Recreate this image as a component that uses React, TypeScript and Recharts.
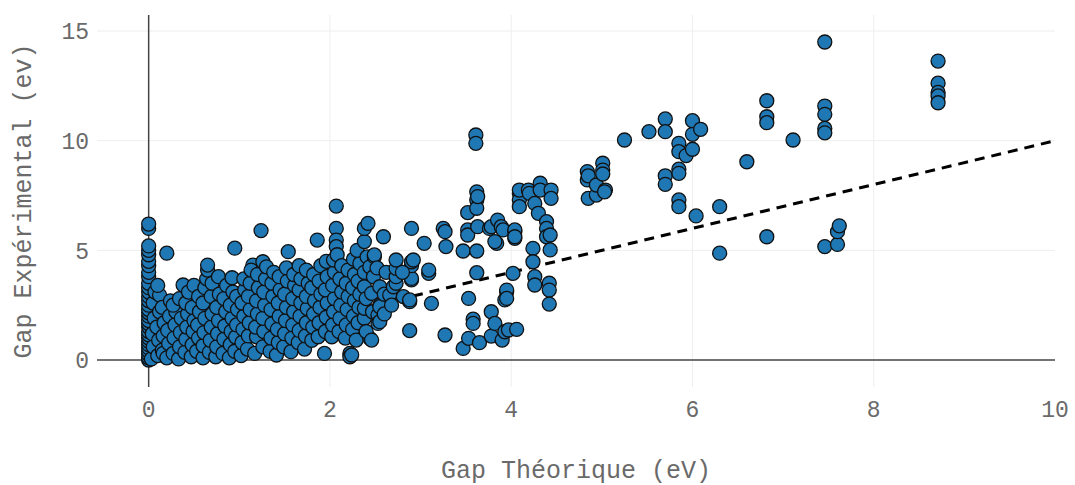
import React from 'react';
import {
  ScatterChart,
  Scatter,
  XAxis,
  YAxis,
  CartesianGrid,
  ReferenceLine,
} from 'recharts';

// ---- Data (Gap Théorique, Gap Expérimental) in eV ----
const zeroGapExperimental: number[] = [
  0, 0.1, 0.25, 0.4, 0.55, 0.7, 0.85, 1.0, 1.15, 1.3, 1.5, 1.65, 1.8, 2.0, 2.15,
  2.3, 2.5, 2.7, 2.9, 3.1, 3.3, 3.5, 3.8, 4.0, 4.3, 4.5, 4.8, 5.0, 5.2, 6.0, 6.2,
];

const lowGapPoints: [number, number][] = [
  [0.03, 0.05], [0.05, 0.6], [0.04, 1.2], [0.06, 1.9], [0.05, 2.6], [0.07, 3.1],
  [0.1, 0.2], [0.11, 0.9], [0.09, 1.5], [0.12, 2.2], [0.12, 2.96], [0.1, 3.4],
  [0.15, 0.45], [0.16, 1.1], [0.17, 1.7], [0.15, 2.4], [0.2, 4.87], [0.16, 0.3],
  [0.2, 0.1], [0.22, 0.75], [0.21, 1.35], [0.23, 2.0], [0.24, 2.7],
  [0.27, 0.3], [0.28, 1.0], [0.29, 1.6], [0.3, 2.2], [0.27, 2.5],
  [0.33, 0.05], [0.34, 0.6], [0.35, 1.25], [0.36, 1.9], [0.34, 2.8], [0.38, 3.42],
  [0.4, 0.35], [0.41, 0.95], [0.42, 1.5], [0.43, 2.1], [0.41, 2.6], [0.44, 3.1],
  [0.47, 0.15], [0.48, 0.7], [0.49, 1.3], [0.5, 1.8], [0.48, 2.4], [0.5, 3.4],
  [0.53, 0.4], [0.55, 1.0], [0.54, 1.6], [0.56, 2.2], [0.55, 2.9],
  [0.6, 0.1], [0.6, 0.65], [0.61, 1.25], [0.62, 1.9], [0.6, 2.6], [0.62, 3.3],
  [0.64, 3.7], [0.65, 4.1], [0.65, 4.33],
  [0.67, 0.35], [0.68, 0.9], [0.69, 1.5], [0.7, 2.1], [0.69, 2.9], [0.7, 3.5],
  [0.74, 0.15], [0.75, 0.6], [0.76, 1.2], [0.77, 1.8], [0.75, 2.4], [0.78, 3.0], [0.77, 3.8],
  [0.82, 0.3], [0.83, 0.95], [0.84, 1.55], [0.85, 2.2], [0.83, 2.8], [0.86, 3.4],
  [0.89, 0.1], [0.9, 0.7], [0.91, 1.3], [0.92, 1.9], [0.9, 2.5], [0.93, 3.1], [0.92, 3.75],
  [0.95, 0.4], [0.96, 1.05], [0.97, 1.6], [0.98, 2.3], [0.97, 2.9], [0.95, 5.1],
];

const midGapPoints: [number, number][] = [
  [1.02, 0.2], [1.03, 0.8], [1.04, 1.4], [1.05, 2.0], [1.03, 2.6], [1.06, 3.2], [1.05, 3.7],
  [1.09, 0.5], [1.1, 1.1], [1.11, 1.7], [1.12, 2.3], [1.1, 2.9], [1.12, 3.5], [1.15, 4.33], [1.13, 4.1],
  [1.17, 0.3], [1.19, 1.06], [1.18, 1.5], [1.2, 2.1], [1.19, 2.7], [1.21, 3.3], [1.2, 3.9], [1.24, 5.9],
  [1.26, 0.6], [1.27, 1.3], [1.26, 1.9], [1.28, 2.5], [1.27, 3.1], [1.29, 3.7], [1.26, 4.48], [1.3, 4.25],
  [1.34, 0.4], [1.35, 1.0], [1.36, 1.65], [1.35, 2.3], [1.37, 2.9], [1.36, 3.5], [1.38, 4.0],
  [1.41, 0.23], [1.43, 0.8], [1.42, 1.4], [1.44, 2.0], [1.43, 2.6], [1.45, 3.2], [1.44, 3.8],
  [1.49, 0.6], [1.5, 1.2], [1.51, 1.8], [1.52, 2.4], [1.5, 3.0], [1.53, 3.6], [1.54, 4.94], [1.52, 4.2],
  [1.57, 0.38], [1.58, 1.0], [1.59, 1.6], [1.6, 2.2], [1.59, 2.8], [1.61, 3.4], [1.6, 3.9],
  [1.65, 0.8], [1.66, 1.35], [1.67, 2.0], [1.68, 2.6], [1.66, 3.2], [1.68, 3.7], [1.66, 4.3],
  [1.72, 0.5], [1.73, 1.1], [1.74, 1.7], [1.75, 2.35], [1.74, 2.9], [1.76, 3.5], [1.74, 4.1],
  [1.8, 0.9], [1.81, 1.5], [1.82, 2.1], [1.83, 2.7], [1.8, 3.3], [1.82, 3.9], [1.86, 5.47],
  [1.87, 1.06], [1.88, 1.7], [1.89, 2.4], [1.9, 3.0], [1.88, 3.6], [1.9, 4.3],
  [1.94, 0.3], [1.95, 1.3], [1.96, 1.95], [1.97, 2.6], [1.95, 3.2], [1.97, 3.8], [1.96, 4.5],
];

const upperGapPoints: [number, number][] = [
  [2.02, 1.06], [2.03, 1.6], [2.04, 2.2], [2.05, 2.8], [2.03, 3.4], [2.05, 4.0], [2.04, 4.56],
  [2.07, 7.02], [2.07, 6.0], [2.07, 5.47], [2.07, 5.17], [2.08, 4.8],
  [2.1, 1.3], [2.11, 1.9], [2.12, 2.5], [2.13, 3.1], [2.11, 3.7], [2.13, 4.3],
  [2.17, 1.0], [2.18, 1.6], [2.19, 2.3], [2.2, 2.9], [2.18, 3.5], [2.2, 4.1], [2.22, 0.3], [2.22, 0.15],
  [2.24, 0.23], [2.25, 1.4], [2.26, 2.0], [2.27, 2.7], [2.25, 3.3], [2.27, 3.9], [2.26, 4.6],
  [2.29, 0.91], [2.31, 1.7], [2.32, 2.4], [2.33, 3.0], [2.31, 3.6], [2.33, 4.4], [2.3, 5.0],
  [2.38, 1.9], [2.38, 2.36], [2.38, 3.34], [2.38, 4.0], [2.38, 5.4], [2.38, 6.0], [2.42, 6.23],
  [2.44, 0.99], [2.4, 1.3], [2.4, 2.8], [2.41, 4.7],
  [2.44, 4.25], [2.46, 3.04], [2.48, 3.8], [2.49, 4.71], [2.49, 4.79], [2.46, 0.91], [2.47, 2.2],
  [2.53, 2.05], [2.53, 1.67], [2.55, 2.5], [2.55, 3.34], [2.55, 2.43], [2.55, 1.75], [2.52, 4.2],
  [2.59, 5.62], [2.6, 3.0], [2.62, 4.0], [2.6, 2.1],
  [2.66, 2.96], [2.7, 3.34], [2.73, 3.5], [2.73, 3.8], [2.73, 4.18], [2.73, 4.56], [2.68, 2.5],
  [2.81, 2.89], [2.88, 2.66], [2.88, 2.74], [2.88, 1.34], [2.9, 3.65], [2.9, 3.72], [2.9, 4.3],
  [2.9, 4.48], [2.9, 6.0], [2.8, 4.0], [2.92, 4.56],
];

const highGapPoints: [number, number][] = [
  [3.04, 5.32], [3.09, 3.95], [3.09, 4.1], [3.12, 2.58], [3.25, 6.0], [3.27, 5.85],
  [3.28, 5.17], [3.27, 1.14],
  [3.47, 4.97], [3.47, 0.53], [3.52, 6.72], [3.52, 5.93], [3.52, 5.7], [3.53, 2.81], [3.53, 0.99],
  [3.58, 1.86], [3.58, 1.67], [3.61, 10.26], [3.61, 9.88], [3.62, 7.67], [3.62, 7.3], [3.62, 6.92],
  [3.62, 4.97], [3.62, 3.98], [3.63, 6.08], [3.65, 0.79], [3.63, 7.45],
  [3.76, 6.0], [3.78, 6.08], [3.78, 1.09], [3.78, 2.2], [3.82, 1.67], [3.84, 5.32], [3.85, 6.38],
  [3.89, 6.08], [3.9, 0.91], [3.91, 5.93], [3.93, 1.29], [3.93, 2.74], [3.95, 3.11], [3.95, 3.19],
  [3.95, 2.81], [3.97, 1.37], [3.82, 5.4],
  [4.02, 3.95], [4.04, 5.85], [4.04, 5.55], [4.04, 5.93], [4.04, 5.62], [4.06, 1.4],
  [4.09, 7.6], [4.09, 7.3], [4.09, 6.99], [4.09, 7.75], [4.19, 7.75], [4.2, 7.6], [4.24, 5.09],
  [4.24, 4.48], [4.26, 7.14], [4.26, 3.8], [4.26, 3.42], [4.3, 6.69], [4.32, 8.06], [4.32, 7.75],
  [4.39, 6.31], [4.39, 6.0], [4.39, 5.62], [4.42, 3.5], [4.42, 3.19], [4.42, 2.55], [4.43, 5.7],
  [4.43, 5.02], [4.44, 7.75], [4.44, 7.37],
];

const largeGapPoints: [number, number][] = [
  [4.84, 8.59], [4.84, 8.21], [4.85, 7.37], [4.85, 8.4], [4.94, 7.52], [4.94, 7.98],
  [5.01, 8.97], [5.01, 8.66], [5.01, 8.48], [5.04, 7.75], [5.03, 7.67],
  [5.25, 10.03], [5.52, 10.41], [5.7, 10.99], [5.7, 10.41], [5.7, 8.4], [5.7, 8.01],
  [5.85, 9.88], [5.85, 9.5], [5.85, 8.7], [5.85, 8.51], [5.85, 7.3], [5.85, 6.99],
  [5.93, 9.32], [6.0, 9.61], [6.0, 10.29], [6.0, 10.91], [6.04, 6.57], [6.09, 10.52],
  [6.3, 6.99], [6.3, 4.87], [6.6, 9.04], [6.82, 11.82], [6.82, 11.09], [6.82, 10.82],
  [6.82, 5.62], [7.11, 10.03],
  [7.46, 14.5], [7.46, 11.58], [7.46, 11.2], [7.46, 10.56], [7.46, 10.36], [7.46, 5.17],
  [7.6, 5.27], [7.6, 5.85], [7.62, 6.12],
  [8.71, 13.63], [8.71, 12.62], [8.71, 12.2], [8.71, 12.04], [8.71, 11.73],
];

const identityLine = [
  { x: 0, y: 0 },
  { x: 10, y: 10 },
];

const xTicks = [0, 2, 4, 6, 8, 10];
const yTicks = [0, 5, 10, 15];
const xGridValues = [2, 4, 6, 8];
const yGridValues = [5, 10, 15];
const xDomain: [number, number] = [-0.57, 10];
const yDomain: [number, number] = [-1.23, 15.73];

const xTitle = 'Gap Théorique (eV)';
const yTitle = 'Gap Expérimental (ev)';

const allPoints = [
  ...zeroGapExperimental.map((y) => ({ x: 0, y })),
  ...lowGapPoints.map(([x, y]) => ({ x, y })),
  ...midGapPoints.map(([x, y]) => ({ x, y })),
  ...upperGapPoints.map(([x, y]) => ({ x, y })),
  ...highGapPoints.map(([x, y]) => ({ x, y })),
  ...largeGapPoints.map(([x, y]) => ({ x, y })),
];

const FONT = "'Courier New', 'Liberation Mono', monospace";
const TEXT_COLOR = '#6a6a6a';

const Dot = (props: any) => {
  const { cx, cy } = props;
  if (cx == null || cy == null) return <g />;
  return <circle cx={cx} cy={cy} r={7} fill="#1f77b4" stroke="#111" strokeWidth={1.3} />;
};

const NoDot = () => <g />;

export default function App() {
  return (
    <div style={{ position: 'absolute', left: 0, top: 0, width: 1075, height: 485, background: '#fff' }}>
      <ScatterChart width={1075} height={485} margin={{ top: 15, right: 20, bottom: 0, left: 0 }}>
        <CartesianGrid
          stroke="#eeeeee"
          strokeWidth={1}
          horizontalValues={yGridValues}
          verticalValues={xGridValues}
        />
        <XAxis
          type="number"
          dataKey="x"
          domain={xDomain}
          ticks={xTicks}
          allowDataOverflow
          axisLine={false}
          tickLine={false}
          tickMargin={8}
          height={98}
          tick={{ fontFamily: FONT, fontSize: 23, fill: TEXT_COLOR }}
          label={{
            content: (p: any) => {
              const vb = p.viewBox || {};
              return (
                <text
                  x={vb.x + vb.width / 2}
                  y={478}
                  textAnchor="middle"
                  fontFamily={FONT}
                  fontSize={25}
                  fill={TEXT_COLOR}
                >
                  {xTitle}
                </text>
              );
            },
          }}
        />
        <YAxis
          type="number"
          dataKey="y"
          domain={yDomain}
          ticks={yTicks}
          allowDataOverflow
          axisLine={false}
          tickLine={false}
          width={97}
          tick={{ fontFamily: FONT, fontSize: 23, fill: TEXT_COLOR }}
          label={{
            content: (p: any) => {
              const vb = p.viewBox || {};
              const cy = vb.y + vb.height / 2;
              return (
                <text
                  x={31}
                  y={cy}
                  transform={`rotate(-90, 31, ${cy})`}
                  textAnchor="middle"
                  fontFamily={FONT}
                  fontSize={25}
                  fill={TEXT_COLOR}
                >
                  {yTitle}
                </text>
              );
            },
          }}
        />
        <ReferenceLine x={0} stroke="#444" strokeWidth={1.5} />
        <ReferenceLine y={0} stroke="#444" strokeWidth={1.5} />
        <Scatter
          data={identityLine}
          line={{ stroke: '#000', strokeWidth: 3, strokeDasharray: '10 7' }}
          shape={NoDot}
          isAnimationActive={false}
        />
        <Scatter data={allPoints} shape={Dot} isAnimationActive={false} />
      </ScatterChart>
    </div>
  );
}
